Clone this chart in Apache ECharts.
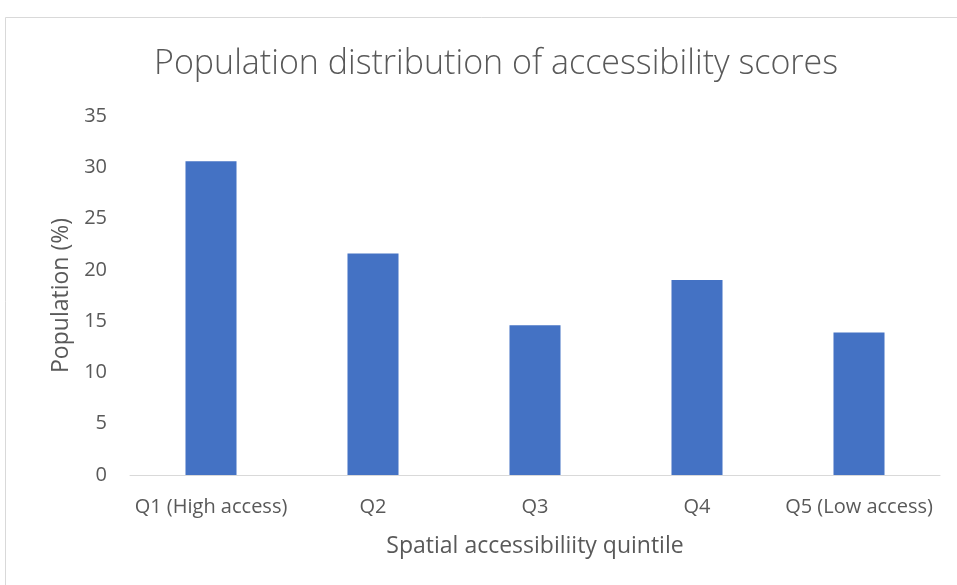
<!DOCTYPE html>
<html>
<head>
<meta charset="utf-8">
<script src="https://cdn.jsdelivr.net/npm/echarts@6/dist/echarts.min.js"></script>
<style>html,body{margin:0;padding:0;background:#fff}#c{width:957px;height:585px}</style>
</head>
<body>
<div id="c"></div>
<script>
const categories = ['Q1 (High access)', 'Q2', 'Q3', 'Q4', 'Q5 (Low access)'];
const populationPct = [30.6, 21.6, 14.6, 19.0, 13.9];
const titleText = 'Population distribution of accessibility scores';
const xName = 'Spatial accessibiliity quintile';
const yName = 'Population (%)';

const FONT = 'Open Sans';
const chart = echarts.init(document.getElementById('c'));
chart.setOption({
  animation: false,
  backgroundColor: '#fff',
  textStyle: { fontFamily: FONT },
  title: {
    text: titleText, left: 149, top: 42,
    textStyle: { fontFamily: FONT, fontSize: 34, fontWeight: 300, color: '#595959' }
  },
  graphic: [{
    type: 'rect', shape: { x: 5.5, y: 17.5, width: 1000, height: 1000 },
    style: { fill: 'none', stroke: '#d9d9d9', lineWidth: 1 }, silent: true
  }],
  grid: { left: 130, right: 17, top: 116, bottom: 110 },
  xAxis: {
    type: 'category', data: categories,
    name: xName, nameLocation: 'middle', nameGap: 60,
    nameTextStyle: { fontSize: 23, color: '#595959', fontFamily: FONT },
    axisLine: { lineStyle: { color: '#d9d9d9', width: 1 } },
    axisTick: { show: false },
    axisLabel: { interval: 0, fontSize: 20, color: '#595959', margin: 22, fontFamily: FONT }
  },
  yAxis: {
    type: 'value', min: 0, max: 35, interval: 5,
    name: yName, nameLocation: 'middle', nameGap: 56,
    nameTextStyle: { fontSize: 23, color: '#595959', fontFamily: FONT },
    splitLine: { show: false },
    axisLine: { show: false }, axisTick: { show: false },
    axisLabel: { fontSize: 20, color: '#595959', margin: 23, fontFamily: FONT }
  },
  series: [{
    type: 'bar', data: populationPct, barWidth: '31.5%',
    itemStyle: { color: '#4472C4' }
  }]
});
</script>
</body>
</html>
